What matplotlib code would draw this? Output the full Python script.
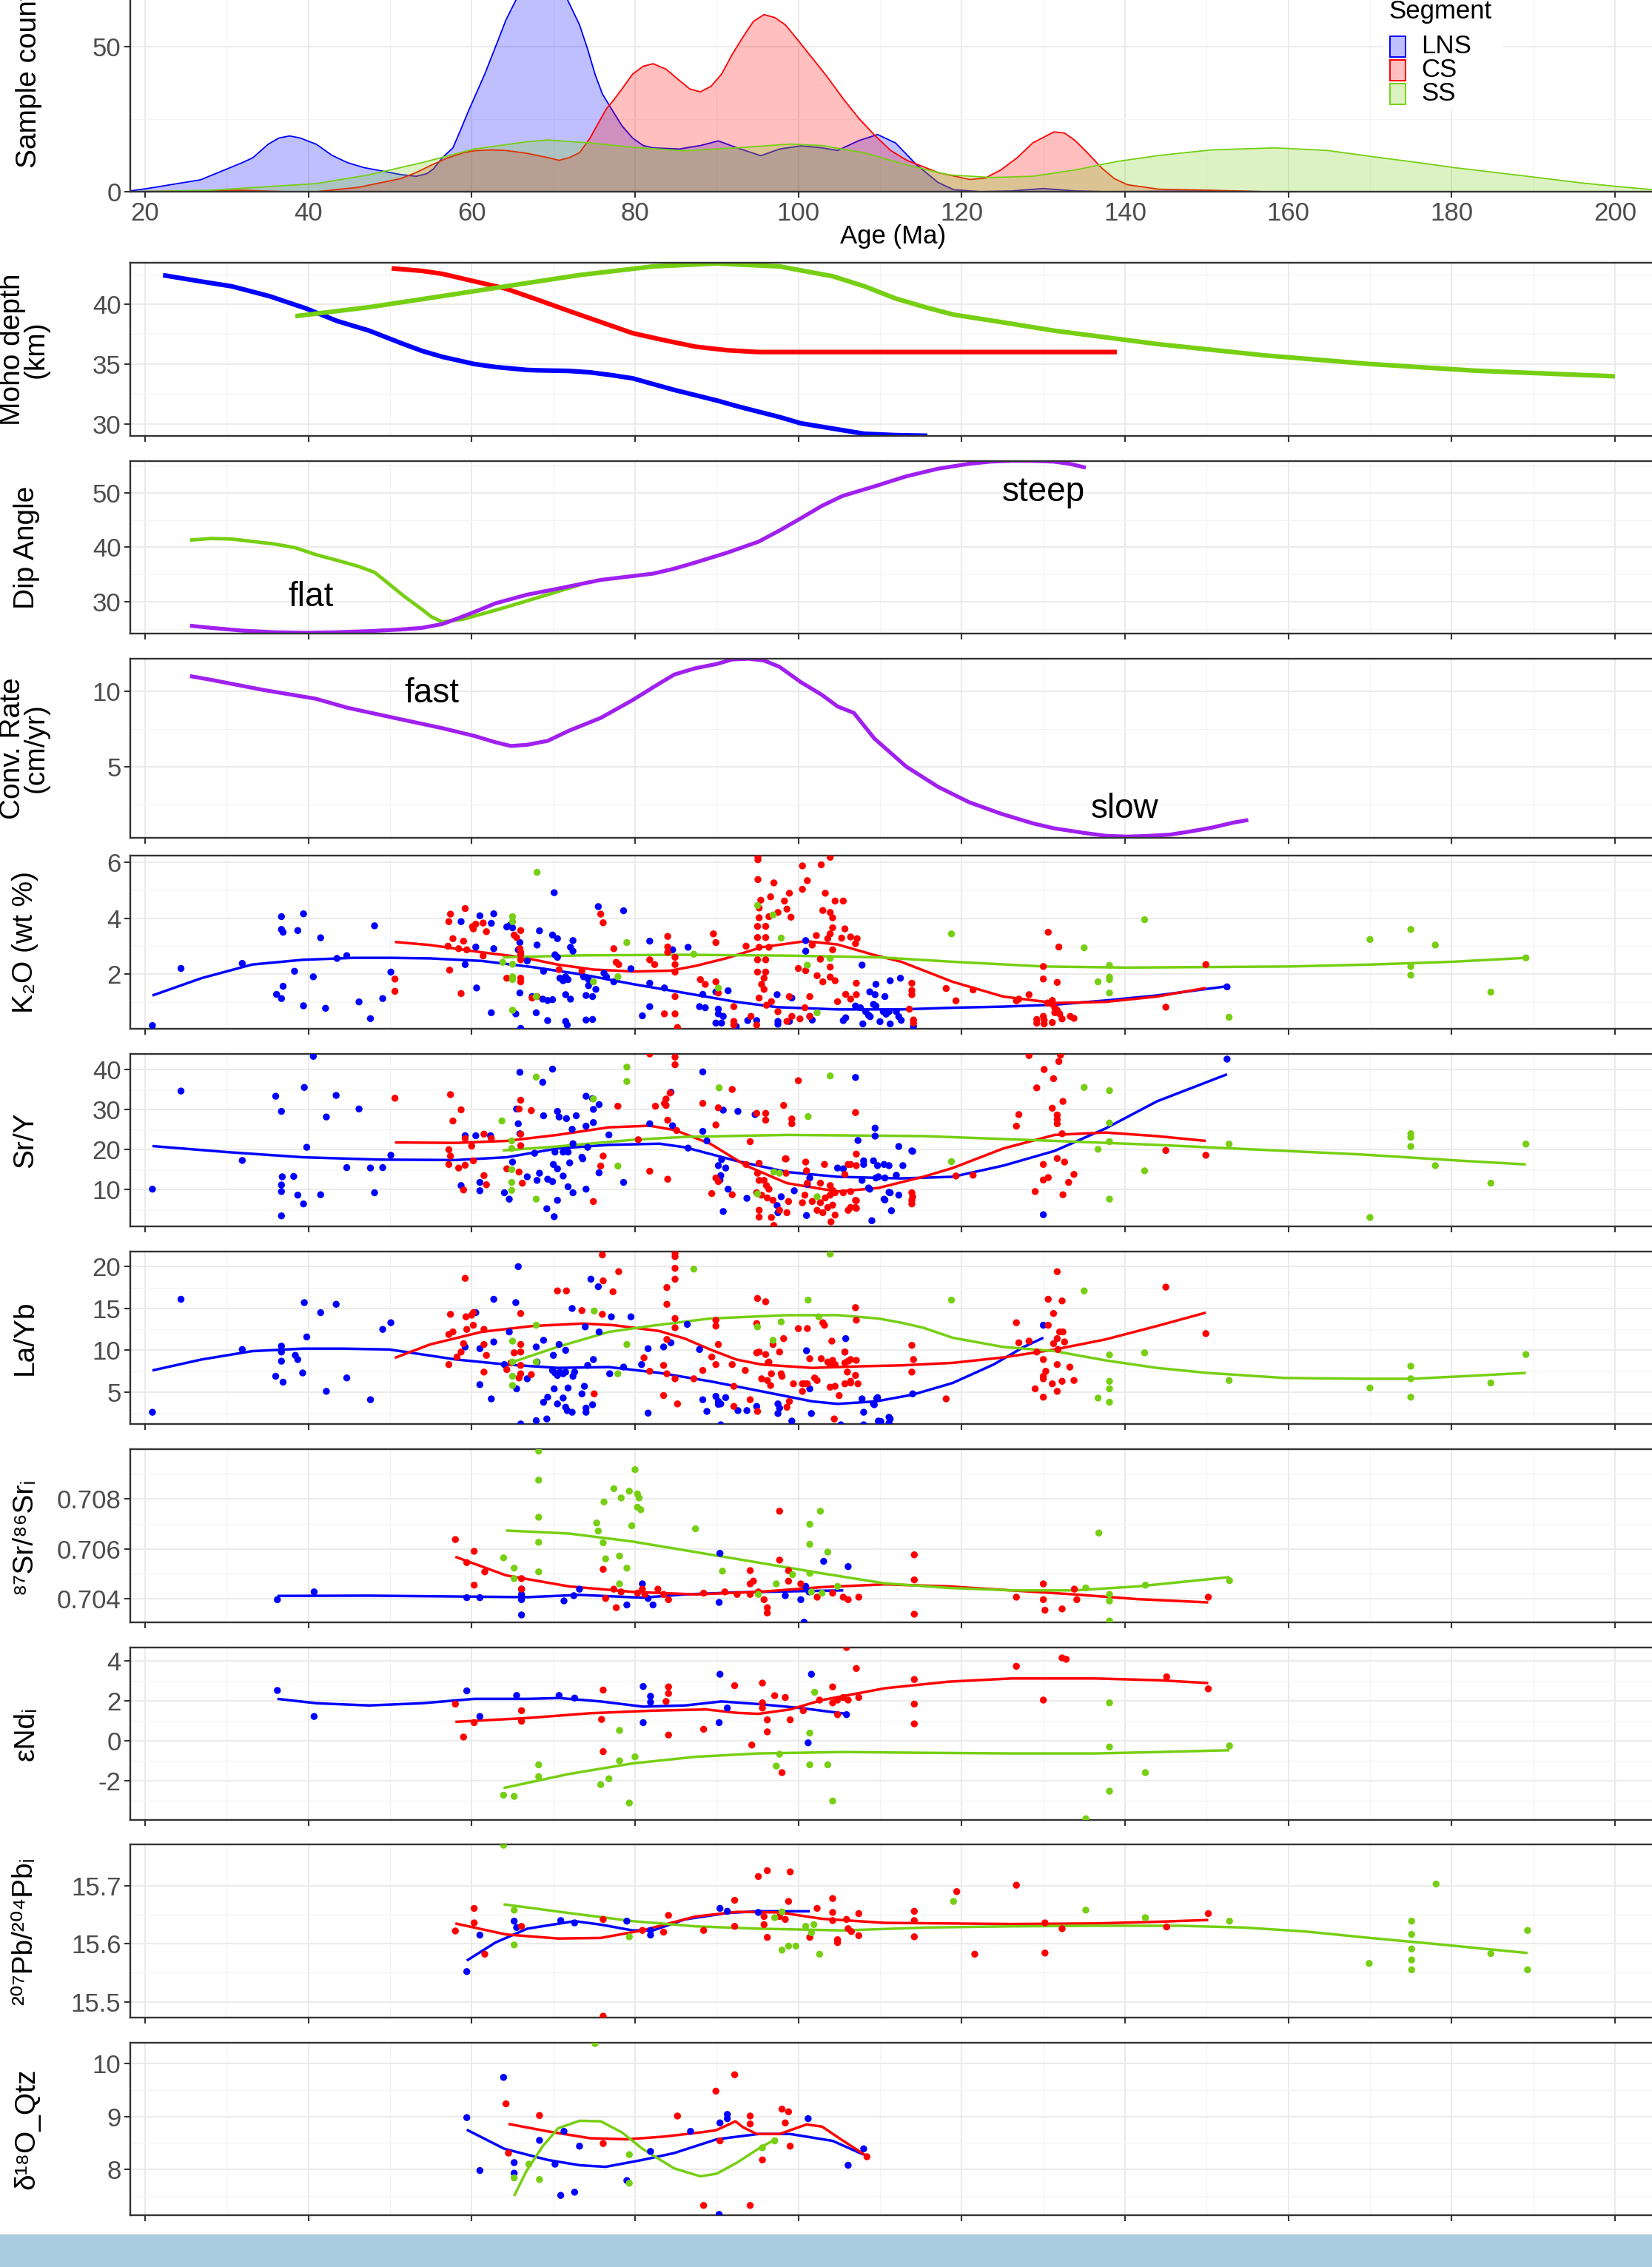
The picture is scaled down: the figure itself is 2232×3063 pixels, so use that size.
import matplotlib.pyplot as plt
from matplotlib.patches import Rectangle

plt.rcParams['font.family'] = ['Liberation Sans', 'DejaVu Sans']
plt.rcParams['axes.unicode_minus'] = False
plt.rcParams['savefig.bbox'] = 'standard'

W, H = 2232, 3063
COL = {'LNS': '#0000FF', 'CS': '#FF0000', 'SS': '#76CF12'}
PURPLE = '#A020F0'
segments = ['LNS', 'CS', 'SS']
age_ticks = list(range(20, 201, 20))
age_minor = list(range(30, 201, 20))

# ---- sample age density (sample count) ----
dens_lns = [(18.1, 0.25), (20.3, 1.1), (26.8, 4.1), (31.9, 10.0), (33.2, 11.7), (35.1, 16.4), (36.4, 18.5),
            (37.7, 19.2), (39.0, 18.5), (41.0, 16.3), (42.9, 12.5), (44.8, 10.0), (46.8, 8.3), (48.7, 7.3),
            (51.3, 5.9), (53.2, 5.3), (54.5, 6.2), (55.3, 7.8), (56.4, 11.7), (57.7, 15.1), (58.6, 21.0),
            (59.6, 27.8), (61.6, 40.5), (62.9, 49.8), (64.2, 59.2), (65.5, 66.5), (67.0, 72.0), (68.5, 74.0),
            (70.0, 72.5), (71.5, 67.5), (73.2, 57.5), (74.2, 49.1), (75.1, 40.5), (76.0, 33.7), (77.1, 28.6),
            (78.4, 22.7), (79.7, 18.5), (81.0, 15.9), (82.2, 15.1), (85.4, 14.7), (88.0, 15.9), (90.2, 17.5),
            (92.5, 15.1), (95.4, 12.4), (97.7, 14.7), (100.3, 15.8), (102.9, 15.1), (104.8, 14.2), (107.4, 17.6),
            (109.7, 19.7), (111.9, 16.8), (114.5, 9.2), (117.1, 3.2), (119.0, 0.7), (122.3, 0.0), (126.1, 0.25),
            (130.0, 1.1), (133.9, 0.25), (137.7, 0.0), (150.7, 0.25), (157.0, 0.0), (210.0, 0.0)]
dens_cs = [(18.1, 0.0), (28.1, 0.25), (31.9, 0.5), (37.1, 0.0), (41.0, 0.0), (46.1, 1.5), (51.3, 4.5), (53.2, 6.6),
           (55.1, 9.2), (57.1, 11.7), (59.0, 13.4), (60.3, 14.1), (62.3, 14.4), (64.2, 14.2), (66.8, 13.2),
           (69.4, 11.7), (70.7, 10.8), (71.9, 11.7), (73.2, 13.4), (74.5, 18.5), (75.5, 23.6), (76.5, 28.6),
           (77.5, 32.0), (78.4, 35.4), (79.7, 40.5), (81.0, 43.2), (82.2, 44.1), (83.8, 42.2), (85.4, 38.4),
           (86.7, 35.4), (88.0, 34.4), (89.3, 36.3), (90.6, 40.5), (91.9, 47.3), (93.2, 53.2), (94.5, 58.7),
           (95.8, 61.0), (97.1, 60.0), (98.4, 57.5), (99.9, 52.4), (101.6, 46.4), (103.5, 39.7), (105.5, 32.0),
           (107.4, 25.3), (109.4, 19.3), (111.3, 14.2), (113.3, 10.8), (117.1, 6.6), (121.0, 4.2), (122.9, 4.7),
           (124.8, 7.5), (126.8, 11.7), (128.7, 16.8), (131.3, 20.6), (132.6, 20.2), (133.9, 17.6), (135.4, 13.4),
           (137.1, 8.3), (138.7, 4.5), (140.3, 2.4), (144.2, 0.85), (150.6, 0.5), (157.1, 0.0), (210.0, 0.0)]
dens_ss = [(18.1, 0.0), (28.1, 0.5), (41.0, 2.8), (47.4, 5.8), (53.9, 10.0), (60.3, 14.7), (66.8, 17.2),
           (69.3, 17.8), (74.5, 16.8), (79.7, 15.3), (86.1, 14.1), (92.5, 15.1), (99.0, 16.4), (102.9, 15.9),
           (108.1, 13.4), (113.3, 9.2), (118.4, 5.8), (123.6, 4.9), (128.7, 5.3), (133.9, 7.5), (139.0, 10.4),
           (144.2, 12.5), (150.6, 14.4), (158.4, 15.1), (164.8, 14.2), (171.3, 11.7), (176.0, 10.0), (180.3, 8.3),
           (184.8, 6.8), (189.3, 5.3), (192.5, 4.2), (195.8, 3.05), (199.7, 1.95), (204.6, 0.7), (210.0, 0.2)]

# ---- Moho depth ----
moho_lns = [(22.2, 42.43), (26.7, 41.92), (30.6, 41.5), (35.2, 40.68), (39.7, 39.65), (43.5, 38.6), (47.4, 37.8),
            (51.3, 36.76), (53.9, 36.1), (56.4, 35.6), (60.3, 35.0), (62.9, 34.75), (66.8, 34.5), (68.1, 34.47),
            (71.9, 34.42), (74.5, 34.3), (77.1, 34.07), (79.7, 33.8), (84.8, 32.83), (90.0, 31.95), (92.6, 31.45),
            (97.7, 30.56), (100.3, 30.04), (104.2, 29.6), (108.1, 29.16), (111.9, 29.05), (115.8, 29.0)]
moho_cs = [(50.2, 43.0), (53.9, 42.79), (56.4, 42.54), (60.3, 41.92), (64.2, 41.3), (68.1, 40.37), (71.9, 39.44),
           (75.8, 38.51), (79.7, 37.58), (83.5, 37.0), (87.4, 36.45), (91.3, 36.15), (95.1, 36.0), (97.7, 36.0),
           (139.0, 36.0)]
moho_ss = [(38.4, 39.0), (47.4, 39.75), (56.4, 40.68), (64.2, 41.5), (73.2, 42.44), (82.2, 43.16), (90.0, 43.41),
           (97.7, 43.16), (104.2, 42.34), (108.1, 41.5), (111.9, 40.48), (115.8, 39.7), (119.0, 39.13),
           (124.8, 38.51), (131.3, 37.79), (144.2, 36.65), (157.1, 35.72), (170.0, 35.0), (182.9, 34.44),
           (200.0, 33.97)]

# ---- dip angle ----
dip_ss = [(25.5, 41.3), (28.1, 41.6), (30.6, 41.5), (35.8, 40.6), (38.4, 39.9), (41.0, 38.6), (43.5, 37.6),
          (46.1, 36.5), (48.1, 35.4), (50.0, 33.1), (51.9, 30.8), (53.9, 28.6), (55.1, 27.2), (56.4, 26.3),
          (59.0, 26.8), (61.6, 27.9), (64.2, 29.0), (69.3, 31.3), (73.2, 33.1)]
dip_all = [(25.5, 25.6), (28.1, 25.2), (31.9, 24.7), (35.8, 24.4), (39.7, 24.3), (43.5, 24.4), (47.4, 24.6),
           (51.3, 24.9), (53.9, 25.2), (56.4, 25.9), (58.4, 27.0), (60.3, 28.1), (62.9, 29.7), (66.8, 31.3),
           (70.6, 32.4), (75.8, 34.0), (79.7, 34.7), (82.2, 35.15), (84.8, 36.06), (87.4, 37.2), (91.3, 39.0),
           (95.1, 41.0), (97.7, 43.07), (100.3, 45.3), (102.9, 47.6), (105.4, 49.4), (109.4, 51.2), (113.2, 53.0),
           (117.1, 54.4), (120.9, 55.3), (123.5, 55.7), (126.1, 55.85), (128.7, 55.84), (131.3, 55.7),
           (133.2, 55.3), (135.2, 54.6)]

# ---- convergence rate ----
conv_rate = [(25.5, 11.0), (28.0, 10.76), (34.5, 10.08), (40.9, 9.5), (44.8, 8.9), (51.3, 8.14), (56.4, 7.55),
             (57.7, 7.38), (60.3, 7.04), (62.9, 6.62), (64.8, 6.37), (66.8, 6.45), (69.3, 6.71), (71.9, 7.38),
             (75.8, 8.23), (79.7, 9.41), (82.2, 10.25), (84.8, 11.1), (87.4, 11.52), (90.0, 11.8), (91.9, 12.1),
             (93.9, 12.15), (95.8, 12.03), (97.7, 11.61), (100.3, 10.6), (102.9, 9.75), (104.8, 8.99), (106.8, 8.56),
             (109.3, 6.87), (113.2, 5.01), (117.1, 3.67), (120.9, 2.65), (124.8, 1.89), (128.7, 1.25), (131.3, 0.92),
             (135.2, 0.6), (137.7, 0.42), (140.3, 0.37), (142.9, 0.42), (145.5, 0.5), (148.0, 0.71), (150.6, 0.96),
             (153.2, 1.29), (155.1, 1.47)]

# ---- K2O (wt %) ----
k2o_lns = [(20.9, 0.15), (24.4, 2.2), (31.9, 2.38), (36.7, 4.06), (36.7, 3.6), (36.9, 3.5), (39.4, 4.16), (38.7, 3.56),
           (41.5, 3.3), (38.3, 2.1), (40.6, 1.9), (36.9, 1.56), (36.1, 1.27), (36.7, 1.12), (39.4, 0.86), (42.1, 0.77),
           (46.2, 1.0), (43.5, 2.56), (44.7, 2.66), (48.1, 3.73), (47.6, 0.4), (49.1, 1.12), (50.1, 2.07),
           (58.7, 3.88), (61.0, 4.09), (62.4, 3.82), (62.7, 4.16), (64.3, 3.69), (64.7, 3.75), (65.0, 3.66), (60.5, 2.97),
           (62.7, 2.91), (59.2, 2.34), (60.6, 1.5), (62.4, 0.61), (65.9, 3.13), (65.7, 2.87), (66.8, 2.47), (68.0, 3.04),
           (68.3, 3.55), (70.1, 4.92), (69.9, 3.4), (70.5, 3.27), (72.4, 3.2), (72.1, 2.96), (72.4, 2.82), (70.2, 2.69),
           (70.5, 2.6), (68.8, 2.1), (70.8, 1.85), (71.2, 1.76), (71.5, 1.9), (71.8, 1.8), (73.7, 1.9), (74.3, 1.8),
           (76.2, 2.03), (76.5, 1.9), (77.4, 1.72), (74.3, 1.58), (75.2, 1.45), (65.9, 1.32), (67.4, 1.19), (68.7, 1.1),
           (69.3, 1.05), (69.9, 1.08), (71.5, 1.26), (72.1, 1.1), (74.0, 1.23), (74.8, 1.19), (69.3, 0.33), (67.9, 0.61),
           (65.4, 0.57), (66.0, 0.05), (71.5, 0.3), (71.7, 0.17), (74.0, 0.35), (74.8, 0.37), (75.5, 4.42), (78.6, 4.27),
           (79.5, 2.19), (81.8, 3.18), (81.8, 1.67), (84.6, 2.87), (86.5, 2.96), (83.6, 1.5), (81.8, 0.83), (80.9, 0.5),
           (88.3, 1.27), (89.9, 1.36), (91.4, 1.4), (87.9, 0.83), (88.6, 0.79), (90.2, 0.74), (90.2, 0.57), (90.8, 0.48),
           (89.9, 0.24), (90.6, 0.24), (92.4, 0.12), (93.8, 0.33), (94.9, 0.33), (97.4, 1.26), (99.2, 1.14), (97.5, 0.3),
           (97.5, 0.2), (98.9, 0.3), (100.9, 3.2), (100.9, 2.82), (101.4, 0.48), (101.7, 0.35), (105.5, 0.33),
           (105.8, 0.43), (107.8, 2.32), (108.75, 1.36), (109.4, 1.26), (110.6, 1.19), (109.5, 1.63), (111.25, 1.76),
           (112.5, 1.85), (107.0, 0.85), (107.6, 0.79), (108.25, 0.65), (108.6, 0.52), (109.2, 0.91), (109.5, 0.85),
           (110.4, 0.65), (110.75, 0.56), (111.1, 0.65), (112.0, 0.65), (112.3, 0.47), (112.6, 0.34), (110.0, 0.29),
           (111.25, 0.21), (107.9, 0.21), (114.1, 0.12), (108.8, 0.47), (152.5, 1.54)]
k2o_cs = [(50.6, 1.82), (50.6, 1.38), (57.4, 4.15), (59.2, 4.35), (57.2, 3.88), (60.1, 3.7), (60.5, 3.79), (61.4, 3.83),
          (61.8, 3.52), (60.2, 3.62), (57.7, 3.27), (59.0, 3.18), (57.1, 3.0), (58.4, 2.91), (59.4, 2.87), (61.4, 2.65),
          (57.3, 2.14), (58.7, 1.3), (65.2, 3.4), (66.0, 3.56), (65.5, 3.31), (65.9, 2.91), (66.0, 2.78), (66.0, 2.69),
          (66.0, 2.51), (66.0, 1.72), (66.0, 1.85), (64.3, 1.85), (67.4, 1.14), (68.0, 1.19), (70.7, 2.16), (73.5, 2.12),
          (75.8, 4.15), (76.1, 3.84), (77.4, 2.91), (78.0, 2.34), (77.7, 2.42), (81.8, 2.51), (82.4, 2.34), (84.0, 3.35),
          (84.0, 2.97), (84.0, 2.78), (84.9, 2.6), (84.9, 2.34), (84.9, 2.07), (84.9, 1.19), (83.6, 0.57), (84.9, 0.57),
          (85.2, 0.08), (88.0, 1.8), (88.6, 1.63), (89.9, 1.72), (90.2, 1.32), (92.1, 0.83), (92.1, 0.3), (92.1, 0.17),
          (89.6, 3.44), (89.9, 3.13), (93.6, 3.0), (95.05, 6.2), (95.05, 6.1), (95.05, 5.39), (97.0, 5.27), (98.9, 4.9),
          (100.5, 5.88), (101.1, 5.35), (100.5, 5.04), (102.8, 5.92), (103.9, 6.19), (103.3, 4.9), (104.5, 4.62),
          (105.5, 4.62), (95.4, 4.65), (96.6, 4.77), (98.3, 4.62), (95.2, 4.37), (97.5, 4.21), (98.6, 4.33), (99.1, 4.04),
          (96.4, 4.06), (95.2, 4.02), (95.0, 3.71), (96.0, 3.71), (95.0, 3.31), (96.0, 3.31), (95.2, 2.96), (96.4, 2.96),
          (95.0, 2.51), (96.0, 2.51), (95.0, 2.07), (96.0, 2.07), (95.8, 1.85), (95.5, 1.63), (95.8, 1.45), (96.7, 1.01),
          (97.5, 0.65), (95.2, 1.14), (96.1, 0.88), (94.2, 0.48), (94.9, 0.17), (98.6, 0.3), (99.2, 0.48), (100.2, 0.39),
          (100.8, 0.79), (101.4, 0.48), (103.0, 4.28), (103.9, 4.21), (104.2, 4.02), (104.2, 3.66), (103.9, 3.44),
          (103.6, 3.27), (105.3, 3.29), (105.7, 3.62), (106.4, 3.33), (107.2, 3.27), (107.0, 3.09), (102.2, 3.38),
          (100.0, 2.2), (100.9, 2.12), (102.3, 1.94), (103.9, 2.25), (103.9, 1.89), (103.0, 1.72), (104.5, 1.76),
          (107.1, 1.67), (101.7, 3.04), (101.4, 1.19), (98.9, 1.19), (105.8, 1.27), (104.8, 1.01), (106.4, 1.1),
          (113.9, 1.67), (113.9, 1.41), (113.9, 1.26), (113.6, 0.74), (102.7, 2.53), (104.2, 2.87), (107.1, 1.26),
          (114.1, 0.35), (114.1, 0.24), (118.1, 1.48), (119.3, 1.04), (121.4, 1.43), (126.7, 1.04), (127.0, 1.1),
          (128.25, 1.26), (130.0, 2.27), (130.0, 1.82), (131.7, 1.7), (130.6, 3.5), (131.9, 2.97), (130.5, 0.96),
          (131.1, 0.92), (131.4, 0.79), (131.1, 1.05), (129.2, 0.37), (129.2, 0.24), (130.0, 0.48), (130.1, 0.35),
          (130.1, 0.21), (131.1, 0.26), (131.4, 0.61), (132.0, 0.57), (132.3, 0.39), (133.3, 0.48), (133.75, 0.41),
          (131.7, 0.7), (145.0, 0.81), (149.9, 2.34)]
k2o_ss = [(68.0, 5.65), (65.0, 4.06), (65.0, 3.88), (63.8, 2.42), (65.0, 2.35), (65.0, 1.9), (65.0, 1.8), (67.9, 1.19),
          (65.0, 0.7), (79.0, 3.13), (74.9, 1.72), (77.9, 1.9), (87.2, 2.71), (90.2, 1.5), (95.0, 4.46), (96.9, 4.12),
          (97.9, 3.29), (101.1, 2.32), (103.9, 2.56), (102.3, 0.61), (118.75, 3.44), (142.4, 3.95), (135.0, 2.94),
          (138.1, 2.31), (138.1, 1.89), (138.1, 1.8), (138.1, 1.32), (136.7, 1.72), (152.75, 0.45), (170.0, 3.24),
          (175.0, 3.6), (178.0, 3.04), (175.0, 2.27), (175.0, 1.96), (184.8, 1.35), (189.1, 2.58)]
k2o_fit_lns = [(20.9, 1.23), (26.9, 1.85), (33.1, 2.34), (39.3, 2.51), (45.6, 2.58), (50.0, 2.58), (54.9, 2.56),
               (61.2, 2.47), (67.4, 2.25), (73.6, 1.98), (79.9, 1.63), (86.1, 1.32), (92.4, 1.0), (97.4, 0.81),
               (104.8, 0.73), (112.6, 0.73), (118.9, 0.79), (125.1, 0.83), (131.4, 0.9), (137.6, 1.05), (143.9, 1.23),
               (152.5, 1.56)]
k2o_fit_cs = [(50.6, 3.15), (54.9, 3.04), (61.2, 2.78), (66.2, 2.6), (70.5, 2.34), (74.9, 2.16), (79.9, 2.09),
              (84.3, 2.12), (87.4, 2.29), (91.1, 2.56), (95.5, 2.96), (100.9, 3.18), (104.8, 3.06), (109.2, 2.69),
              (112.6, 2.44), (118.9, 1.72), (125.1, 1.19), (131.4, 0.96), (137.6, 1.0), (143.9, 1.19), (149.9, 1.5)]
k2o_fit_ss = [(63.8, 2.6), (73.6, 2.67), (86.1, 2.69), (98.6, 2.66), (109.8, 2.6), (118.9, 2.44), (130.1, 2.27),
              (140.1, 2.23), (150.1, 2.25), (160.1, 2.27), (170.1, 2.34), (180.1, 2.44), (189.1, 2.58)]

# ---- Sr/Y ----
sry_lns = [(20.9, 10.0), (24.4, 34.6), (31.9, 17.2), (36.0, 33.3), (36.7, 29.5), (39.5, 35.5), (43.4, 33.5), (46.2, 30.1),
           (42.2, 28.1), (39.8, 20.5), (44.7, 15.4), (47.6, 15.3), (49.1, 15.4), (36.8, 13.1), (38.2, 13.2), (36.7, 11.05),
           (36.7, 9.4), (38.7, 8.5), (41.5, 8.6), (39.4, 6.3), (36.7, 3.3), (48.1, 9.1), (40.6, 43.3), (50.1, 18.5),
           (59.2, 23.4), (60.5, 23.4), (62.3, 23.4), (58.7, 10.9), (61.0, 11.7), (61.0, 9.6), (64.0, 9.1), (64.6, 7.5),
           (65.9, 39.3), (69.9, 40.1), (68.7, 36.8), (65.5, 30.1), (65.7, 26.4), (65.9, 23.9), (68.8, 28.4), (70.5, 29.5),
           (70.7, 28.1), (71.6, 27.7), (72.8, 28.4), (74.0, 33.3), (74.8, 32.7), (75.6, 31.2), (74.9, 30.0), (74.9, 26.7),
           (74.0, 25.8), (72.3, 25.0), (76.8, 23.6), (74.2, 20.5), (72.4, 21.4), (70.2, 19.3), (71.8, 19.3), (71.2, 19.3),
           (67.7, 19.0), (65.0, 16.8), (70.0, 16.2), (72.0, 16.6), (73.6, 17.6), (73.5, 18.0), (75.6, 14.1), (78.6, 11.7),
           (66.8, 13.1), (68.0, 12.2), (69.3, 12.5), (69.9, 11.9), (68.3, 14.0), (71.2, 13.3), (70.5, 15.1), (71.8, 10.6),
           (72.4, 9.1), (74.0, 10.0), (69.2, 5.1), (70.1, 3.1), (70.5, 7.2), (81.8, 26.4), (84.6, 25.9), (84.4, 34.3),
           (88.3, 39.4), (86.5, 20.3), (88.3, 24.5), (88.8, 22.1), (90.6, 17.4), (90.2, 15.9), (91.1, 15.3), (90.8, 29.8),
           (92.6, 29.5), (94.7, 28.7), (90.5, 13.4), (90.4, 12.3), (91.4, 10.0), (90.8, 4.4), (93.7, 7.7), (97.9, 8.1),
           (97.4, 5.9), (97.5, 4.1), (101.0, 3.4), (99.5, 9.6), (101.1, 11.2), (101.4, 12.8), (104.8, 15.3), (105.5, 15.1),
           (107.0, 38.0), (109.4, 25.3), (109.4, 23.3), (107.3, 22.2), (108.0, 17.1), (108.0, 16.2), (109.2, 17.1),
           (109.7, 15.9), (107.8, 12.2), (108.6, 10.3), (109.5, 12.8), (110.5, 16.2), (111.1, 15.9), (112.3, 20.7),
           (112.8, 15.9), (113.9, 19.6), (111.1, 9.2), (110.5, 7.5), (112.3, 8.5), (111.4, 4.6), (109.0, 2.1),
           (114.0, 19.5), (109.8, 13.1), (110.6, 12.8), (112.0, 13.5), (108.75, 10.0), (111.25, 9.1), (110.6, 7.3),
           (130.0, 3.6), (152.5, 42.6)]
sry_cs = [(50.6, 32.8), (57.4, 33.7), (58.7, 29.9), (57.7, 27.1), (59.2, 22.7), (60.0, 20.8), (61.5, 23.8), (62.4, 22.7),
          (57.2, 19.9), (57.4, 18.3), (57.2, 16.2), (58.4, 15.3), (59.2, 16.0), (60.2, 17.1), (61.5, 13.4), (61.8, 11.1),
          (66.2, 11.5), (59.0, 9.8), (66.0, 32.3), (65.8, 30.1), (67.3, 29.7), (66.0, 23.8), (66.0, 20.9), (64.3, 15.1),
          (65.8, 14.3), (74.9, 6.9), (75.8, 15.8), (76.1, 18.3), (77.9, 30.8), (80.4, 22.4), (81.8, 14.5), (84.0, 12.5),
          (81.8, 43.9), (84.9, 43.1), (84.9, 41.2), (84.3, 34.1), (83.8, 32.6), (83.8, 31.0), (83.6, 31.5), (82.5, 30.8),
          (84.0, 27.3), (85.1, 24.7), (88.3, 31.5), (90.2, 30.4), (91.9, 35.0), (89.9, 26.1), (94.1, 21.9), (94.9, 29.0),
          (96.0, 29.0), (96.0, 27.3), (98.2, 31.0), (99.2, 27.6), (99.2, 26.4), (100.0, 37.2), (98.4, 17.6), (95.2, 16.5),
          (93.6, 16.2), (89.9, 12.8), (90.2, 11.9), (89.4, 8.9), (91.9, 8.6), (95.0, 14.0), (95.2, 12.2), (95.8, 12.2),
          (96.1, 10.9), (96.4, 10.0), (94.9, 9.1), (95.5, 8.5), (96.2, 7.8), (96.9, 7.2), (98.8, 6.9), (97.7, 4.7),
          (95.2, 4.7), (95.2, 3.0), (96.7, 2.9), (97.0, 0.9), (98.6, 4.1), (100.9, 16.8), (101.0, 14.6), (103.2, 16.2),
          (101.1, 11.5), (102.7, 11.5), (103.9, 10.9), (104.2, 9.7), (104.5, 9.1), (103.9, 8.5), (103.3, 7.8),
          (102.7, 6.6), (101.7, 6.9), (100.5, 6.6), (100.8, 8.5), (102.3, 4.7), (103.0, 4.1), (103.6, 5.4), (104.2, 6.0),
          (104.5, 3.5), (104.0, 1.8), (106.1, 4.7), (107.0, 5.4), (105.5, 9.1), (106.1, 16.2), (107.1, 18.8),
          (107.0, 29.2), (98.5, 17.6), (105.7, 13.7), (107.0, 7.2), (113.9, 9.1), (113.9, 7.2), (113.9, 6.3), (98.5, 14.0),
          (106.4, 16.2), (107.1, 15.9), (106.4, 9.4), (106.4, 5.4), (107.1, 7.1), (107.1, 5.2), (114.0, 8.1),
          (119.3, 13.3), (121.4, 13.5), (128.25, 43.5), (132.1, 43.6), (131.9, 42.0), (130.1, 40.0), (131.25, 37.7),
          (129.2, 35.4), (132.4, 32.0), (131.1, 30.3), (127.0, 28.7), (131.7, 28.6), (131.7, 27.5), (131.7, 26.4),
          (126.7, 25.8), (132.3, 23.9), (131.7, 17.7), (132.6, 16.8), (130.0, 16.2), (133.75, 13.7), (130.6, 12.9),
          (130.0, 12.3), (133.1, 11.7), (129.0, 9.4), (132.4, 8.6), (145.0, 19.7), (149.9, 18.5)]
sry_ss = [(79.0, 40.6), (79.0, 37.0), (67.9, 38.1), (74.9, 32.6), (63.7, 27.1), (64.9, 22.1), (64.9, 20.2), (64.9, 14.9),
          (64.9, 11.7), (64.9, 9.7), (67.9, 7.5), (77.9, 15.8), (90.3, 35.4), (103.9, 38.4), (101.2, 28.2), (97.0, 14.3),
          (97.7, 14.0), (95.0, 8.8), (102.3, 8.1), (118.75, 16.9), (135.0, 35.5), (138.1, 34.7), (138.1, 26.6),
          (138.1, 21.9), (136.7, 20.0), (142.4, 14.6), (138.1, 7.5), (152.75, 21.3), (170.0, 2.9), (175.0, 23.9),
          (175.0, 23.0), (175.0, 20.7), (178.0, 15.9), (184.8, 11.5), (189.1, 21.3)]
sry_fit_lns = [(20.9, 20.8), (30.0, 19.3), (39.3, 18.0), (48.7, 17.4), (58.1, 17.3), (64.3, 18.0), (70.5, 20.2),
               (76.8, 21.1), (83.0, 21.4), (86.1, 20.5), (92.4, 17.1), (98.6, 14.3), (104.8, 13.1), (112.6, 12.7),
               (118.9, 13.1), (125.1, 15.9), (131.4, 19.6), (137.6, 25.2), (143.9, 32.0), (152.5, 38.8)]
sry_fit_cs = [(50.6, 21.7), (58.1, 21.6), (64.3, 22.1), (70.5, 23.6), (76.8, 25.5), (81.8, 25.9), (84.9, 24.8),
              (89.2, 21.4), (93.6, 15.9), (98.6, 11.5), (104.8, 9.4), (109.8, 10.3), (115.3, 13.1), (118.9, 15.3),
              (125.1, 20.2), (131.4, 23.6), (137.6, 24.2), (143.9, 23.3), (149.9, 22.1)]
sry_fit_ss = [(63.8, 19.7), (70.5, 20.7), (79.9, 22.4), (86.1, 23.1), (98.6, 23.6), (115.3, 23.3), (131.4, 22.1),
              (143.9, 21.1), (156.4, 19.9), (168.9, 18.7), (181.4, 17.1), (189.1, 16.2)]

# ---- La/Yb ----
layb_lns = [(20.9, 2.6), (24.4, 16.1), (31.9, 10.1), (39.5, 15.7), (43.4, 15.5), (41.5, 14.5), (39.8, 11.6), (36.7, 10.5),
            (36.7, 9.8), (36.7, 8.7), (38.4, 9.4), (38.7, 8.9), (39.3, 7.3), (36.0, 6.9), (36.9, 6.2), (44.7, 6.7),
            (42.2, 5.1), (47.6, 4.1), (49.1, 12.5), (50.1, 13.3), (60.5, 14.5), (59.2, 10.4), (61.0, 10.2), (62.7, 16.1),
            (64.6, 12.2), (62.7, 11.0), (65.4, 15.7), (65.7, 20.0), (61.0, 5.9), (62.4, 4.2), (64.0, 8.3), (66.8, 6.6),
            (65.5, 5.4), (67.9, 10.4), (68.8, 11.2), (70.0, 9.4), (70.7, 10.7), (71.5, 10.0), (68.0, 8.6), (69.9, 7.6),
            (70.2, 7.3), (70.5, 7.0), (70.8, 7.4), (71.2, 7.2), (71.5, 7.4), (72.4, 6.9), (72.6, 7.4), (74.2, 8.2),
            (74.9, 8.9), (75.6, 12.2), (73.9, 12.8), (72.3, 15.0), (74.6, 18.5), (75.5, 17.6), (77.1, 14.0), (79.5, 14.0),
            (70.1, 5.4), (71.8, 5.5), (73.5, 4.8), (73.8, 5.7), (69.3, 4.4), (71.2, 4.3), (68.8, 3.8), (70.5, 3.6),
            (71.5, 3.2), (71.7, 2.8), (72.3, 2.6), (74.0, 3.1), (74.0, 2.6), (74.8, 3.5), (67.9, 1.6), (69.2, 1.8),
            (66.0, 1.2), (78.6, 8.0), (76.9, 7.2), (80.8, 8.3), (81.6, 10.2), (83.5, 10.4), (84.4, 10.9), (86.4, 13.1),
            (87.9, 10.1), (81.6, 2.5), (88.3, 4.1), (89.9, 4.5), (90.2, 3.9), (91.1, 4.35), (90.5, 3.6), (90.2, 3.55),
            (88.8, 2.7), (90.5, 1.1), (92.6, 2.8), (93.7, 2.8), (94.9, 3.3), (97.5, 3.6), (97.7, 3.1), (99.2, 1.55),
            (97.5, 2.45), (101.6, 2.45), (101.0, 9.95), (101.4, 5.4), (105.8, 11.4), (105.7, 9.8), (107.8, 4.2),
            (109.2, 3.6), (109.7, 4.35), (108.0, 2.6), (109.8, 1.55), (111.1, 2.0), (111.1, 1.3), (108.0, 1.1),
            (105.2, 1.1), (109.6, 4.25), (109.3, 3.5), (110.1, 1.5), (111.25, 1.8), (114.0, 4.8), (130.0, 13.0)]
layb_cs = [(59.2, 18.6), (57.4, 14.3), (59.3, 14.0), (60.0, 14.2), (60.2, 14.5), (57.2, 11.9), (57.7, 12.2), (59.4, 12.5),
           (60.2, 13.0), (61.5, 12.5), (59.0, 10.8), (58.7, 9.8), (58.2, 9.2), (61.5, 10.7), (61.8, 9.4), (57.2, 8.3),
           (61.5, 7.4), (64.3, 7.7), (66.0, 14.4), (66.0, 10.7), (66.0, 9.8), (65.2, 9.7), (66.0, 8.2), (66.0, 7.2),
           (65.8, 6.7), (67.3, 7.1), (64.8, 8.5), (70.5, 17.1), (71.6, 17.1), (73.5, 14.75), (76.0, 14.3), (76.1, 18.3),
           (76.0, 21.4), (77.3, 17.0), (78.0, 19.4), (81.1, 9.1), (81.8, 7.5), (83.5, 8.2), (83.9, 17.5), (83.9, 15.5),
           (83.9, 11.3), (83.9, 7.2), (84.9, 21.6), (84.9, 21.2), (84.9, 19.8), (84.9, 18.5), (84.9, 13.8), (84.9, 12.7),
           (84.9, 6.6), (85.2, 3.6), (83.5, 4.6), (75.0, 4.8), (87.2, 6.6), (89.9, 13.6), (89.9, 12.9), (90.2, 10.7),
           (89.4, 9.2), (89.9, 8.3), (88.3, 7.6), (91.9, 8.3), (93.5, 7.6), (92.1, 5.7), (92.1, 3.3), (94.1, 4.1),
           (95.0, 2.7), (95.0, 16.2), (96.0, 15.8), (94.9, 13.2), (95.2, 9.8), (94.9, 9.7), (96.0, 9.5), (96.4, 8.6),
           (96.3, 8.5), (97.7, 9.8), (98.2, 11.4), (96.9, 10.7), (96.7, 7.2), (95.5, 6.6), (96.2, 6.4), (96.6, 5.8),
           (97.9, 7.2), (98.0, 6.9), (99.4, 6.0), (100.0, 12.6), (101.1, 12.6), (103.0, 13.3), (103.2, 13.0), (101.4, 9.0),
           (102.8, 9.0), (103.6, 8.6), (103.9, 8.3), (104.2, 8.8), (104.5, 8.3), (105.7, 9.8), (104.1, 11.1), (105.7, 8.5),
           (107.0, 15.1), (107.1, 13.6), (106.1, 8.7), (106.0, 7.4), (106.4, 6.3), (105.7, 6.0), (107.3, 6.0), (104.5, 5.7),
           (103.9, 5.6), (102.0, 6.7), (102.3, 6.4), (100.5, 6.0), (101.1, 6.0), (100.5, 5.1), (100.8, 6.0), (98.9, 3.9),
           (98.6, 3.2), (105.0, 4.6), (104.4, 1.8), (113.9, 10.6), (113.9, 7.4), (107.1, 8.8), (106.4, 8.9), (107.0, 7.0),
           (106.4, 6.1), (114.1, 8.9), (118.1, 4.2), (126.7, 13.3), (127.0, 10.9), (128.25, 11.1), (129.2, 9.8),
           (130.0, 8.9), (130.0, 6.9), (130.0, 6.6), (130.3, 7.5), (131.1, 6.0), (131.7, 8.3), (131.7, 5.1), (129.0, 5.4),
           (130.0, 4.4), (132.3, 6.3), (133.75, 6.4), (133.25, 8.0), (131.7, 19.4), (130.6, 16.1), (132.3, 15.9),
           (131.25, 14.4), (130.6, 13.0), (132.0, 12.2), (132.4, 12.2), (131.7, 11.4), (131.25, 10.8), (132.6, 11.0),
           (131.8, 10.1), (145.0, 17.55), (149.9, 12.0)]
layb_ss = [(87.2, 19.7), (103.9, 21.5), (101.2, 16.0), (97.9, 13.4), (96.9, 11.2), (95.0, 12.8), (102.5, 14.0), (75.0, 14.7),
           (79.0, 10.7), (67.9, 13.0), (77.9, 7.2), (65.0, 11.1), (65.0, 8.6), (65.0, 6.9), (65.0, 5.8), (67.9, 8.6),
           (118.75, 16.0), (135.0, 17.1), (138.1, 9.45), (138.1, 6.3), (138.1, 5.4), (138.1, 3.8), (136.7, 4.3),
           (142.4, 9.7), (152.75, 6.4), (170.0, 5.5), (175.0, 8.1), (175.0, 6.6), (175.0, 4.4), (184.8, 6.1), (189.1, 9.5)]
layb_fit_lns = [(20.9, 7.6), (26.9, 8.9), (33.1, 9.9), (39.3, 10.2), (44.3, 10.2), (49.9, 10.1), (58.1, 8.9), (64.3, 8.3),
                (70.5, 7.9), (76.8, 8.0), (83.0, 7.3), (89.2, 6.3), (95.5, 5.1), (101.7, 3.9), (104.8, 3.6), (109.5, 3.9),
                (114.0, 4.7), (118.9, 6.1), (123.9, 8.3), (127.6, 10.4), (130.0, 11.5)]
layb_fit_cs = [(50.6, 9.1), (54.9, 10.7), (61.2, 12.2), (67.4, 12.9), (73.6, 13.2), (77.4, 13.0), (83.0, 12.3),
               (86.1, 11.4), (89.2, 10.1), (92.4, 8.9), (95.5, 8.3), (101.7, 7.9), (108.0, 8.1), (112.6, 8.2),
               (118.9, 8.5), (125.1, 9.15), (131.4, 10.1), (137.6, 11.3), (143.9, 12.9), (149.9, 14.5)]
layb_fit_ss = [(65.0, 8.6), (70.5, 10.4), (76.8, 12.2), (81.8, 12.9), (89.2, 13.8), (98.6, 14.2), (104.8, 14.2),
               (109.8, 13.8), (112.6, 13.3), (115.3, 12.7), (118.9, 11.5), (125.1, 10.4), (131.4, 9.9), (137.6, 8.8),
               (143.9, 7.9), (150.1, 7.3), (159.5, 6.7), (168.9, 6.6), (175.1, 6.6), (181.4, 6.9), (189.1, 7.3)]

# ---- 87Sr/86Sr initial ----
srsr_lns = [(36.2, 0.70397), (40.7, 0.70428), (59.4, 0.70405), (61.0, 0.70405), (66.1, 0.70439), (66.1, 0.70418),
            (66.1, 0.70397), (66.1, 0.70336), (71.3, 0.70392), (72.5, 0.70413), (73.2, 0.70439), (79.0, 0.70376),
            (80.9, 0.7046), (81.6, 0.70402), (82.2, 0.70376), (90.4, 0.70582), (90.3, 0.70386), (98.4, 0.70413),
            (100.3, 0.70397), (101.3, 0.70428), (100.9, 0.7045), (103.1, 0.7055), (106.1, 0.70529), (100.7, 0.70307)]
srsr_cs = [(58.0, 0.70637), (60.3, 0.7059), (59.4, 0.70545), (60.3, 0.70455), (61.6, 0.70508), (66.1, 0.70481),
           (66.1, 0.70439), (76.1, 0.70518), (76.4, 0.70402), (77.4, 0.70439), (77.7, 0.70365), (78.3, 0.70428),
           (80.3, 0.70423), (80.9, 0.70439), (81.2, 0.70418), (82.8, 0.70439), (83.5, 0.70418), (84.1, 0.70397),
           (88.4, 0.70423), (91.0, 0.70428), (92.5, 0.70418), (94.1, 0.70513), (94.1, 0.7046), (94.1, 0.70418),
           (94.5, 0.70471), (95.1, 0.70428), (95.8, 0.70397), (96.2, 0.70365), (96.2, 0.70344), (97.7, 0.7075),
           (97.7, 0.70555), (98.8, 0.70513), (98.8, 0.70471), (100.3, 0.7046), (102.3, 0.70407), (104.2, 0.70423),
           (105.5, 0.70407), (106.1, 0.70397), (107.4, 0.70407), (114.2, 0.70576), (114.2, 0.70476), (114.2, 0.70339),
           (126.7, 0.70407), (130.0, 0.7046), (130.0, 0.70397), (130.2, 0.70355), (132.3, 0.7036), (133.8, 0.70439),
           (134.1, 0.70397), (150.2, 0.70407)]
srsr_ss = [(68.2, 0.7099), (68.2, 0.70874), (68.2, 0.70726), (68.2, 0.70626), (68.2, 0.70508), (63.9, 0.70564),
           (65.2, 0.70523), (65.2, 0.70481), (75.3, 0.70703), (75.5, 0.70671), (76.2, 0.70787), (77.4, 0.7084),
           (78.3, 0.70803), (79.3, 0.7083), (80.3, 0.70819), (80.5, 0.70803), (80.3, 0.70766), (80.7, 0.70756),
           (80.0, 0.70916), (76.1, 0.70624), (76.4, 0.7056), (78.1, 0.70571), (79.0, 0.70523), (78.1, 0.7046),
           (79.6, 0.70692), (87.4, 0.7068), (90.7, 0.70511), (95.1, 0.70418), (97.3, 0.7046), (99.3, 0.70497),
           (101.6, 0.70428), (101.4, 0.70502), (101.4, 0.70618), (101.4, 0.70698), (102.7, 0.7075), (103.6, 0.70587),
           (104.8, 0.7045), (102.9, 0.70423), (135.2, 0.70444), (136.8, 0.70663), (138.1, 0.70418), (138.1, 0.70392),
           (138.1, 0.70312), (142.5, 0.70455), (152.8, 0.70473)]
srsr_fit_lns = [(36.2, 0.70412), (47.4, 0.70413), (60.3, 0.70409), (66.8, 0.70407), (73.2, 0.70416), (80.9, 0.70405),
                (86.1, 0.70418), (92.5, 0.70426), (100.3, 0.70431), (105.5, 0.70434)]
srsr_fit_cs = [(58.0, 0.70568), (64.2, 0.70494), (71.9, 0.7045), (79.7, 0.70428), (87.4, 0.70418), (95.1, 0.70428),
               (102.9, 0.70447), (110.6, 0.70458), (118.4, 0.7045), (126.1, 0.70434), (133.8, 0.70418),
               (141.6, 0.70399), (150.2, 0.70386)]
srsr_fit_ss = [(64.2, 0.70673), (71.9, 0.70661), (79.7, 0.70629), (87.4, 0.70587), (95.1, 0.70545), (102.9, 0.70502),
               (110.6, 0.70462), (118.4, 0.70444), (126.1, 0.70434), (133.8, 0.70434), (141.6, 0.7045), (152.8, 0.70487)]

# ---- eNd initial ----
end_lns = [(36.2, 2.53), (40.7, 1.23), (59.4, 2.51), (61.0, 1.23), (65.5, 2.28), (70.7, 2.28), (72.6, 2.15), (81.0, 2.73),
           (81.9, 2.24), (81.9, 1.94), (81.0, 0.92), (90.4, 3.34), (90.3, 0.92), (91.3, 1.65), (101.6, 3.34),
           (101.2, -0.09), (105.9, 1.32)]
end_cs = [(58.0, 1.85), (59.0, 0.2), (60.3, 0.92), (66.1, 1.52), (66.1, 0.99), (76.1, 2.55), (75.9, 1.08), (76.1, -0.53),
          (84.1, 2.71), (84.1, 2.38), (83.8, 1.98), (84.1, 0.3), (88.4, 0.59), (92.2, 2.77), (95.6, 2.9), (95.6, 1.91),
          (95.6, 1.65), (94.3, -0.2), (96.2, 1.06), (96.2, 0.46), (97.1, 2.27), (98.4, 2.18), (98.0, -1.58), (99.0, 1.06),
          (100.6, 1.52), (102.6, 2.05), (104.2, 1.91), (104.8, 2.05), (105.5, 2.18), (106.1, 2.05), (107.4, 2.18),
          (104.2, 2.71), (105.9, 4.68), (107.1, 3.63), (104.8, 1.32), (114.2, 3.08), (114.2, 1.85), (114.2, 0.86),
          (126.7, 3.74), (130.0, 2.05), (132.3, 4.16), (132.8, 4.09), (145.1, 3.21), (150.2, 2.61)]
end_ss = [(63.9, -2.71), (65.2, -2.77), (68.2, -1.19), (68.2, -1.78), (75.8, -2.18), (76.8, -1.89), (78.1, 0.53),
          (78.1, -0.99), (79.3, -3.1), (80.0, -0.79), (97.7, -0.66), (97.3, -1.25), (101.4, 0.4), (101.4, -1.19),
          (102.0, 2.44), (103.6, -1.19), (104.2, -3.0), (135.2, -3.89), (138.1, 1.91), (138.1, -0.3), (138.1, -2.51),
          (142.5, -1.58), (152.8, -0.24)]
end_fit_lns = [(36.2, 2.11), (41.0, 1.89), (47.4, 1.78), (53.9, 1.89), (60.3, 2.11), (66.8, 2.11), (70.7, 2.15),
               (75.8, 1.98), (81.0, 1.72), (86.1, 1.78), (90.6, 1.98), (95.1, 1.85), (100.3, 1.65), (105.9, 1.36)]
end_fit_cs = [(58.0, 0.96), (66.8, 1.15), (74.5, 1.39), (82.2, 1.52), (88.7, 1.58), (92.5, 1.41), (95.1, 1.36),
              (99.0, 1.58), (102.9, 2.05), (110.6, 2.64), (118.4, 2.97), (126.1, 3.13), (136.4, 3.13), (144.2, 3.04),
              (150.2, 2.9)]
end_fit_ss = [(63.9, -2.35), (71.9, -1.65), (79.7, -1.12), (87.4, -0.79), (95.1, -0.62), (105.5, -0.55), (115.8, -0.59),
              (126.1, -0.62), (136.4, -0.62), (144.2, -0.55), (152.8, -0.46)]

# ---- 207Pb/204Pb initial ----
pb_lns = [(59.4, 15.552), (61.0, 15.615), (65.2, 15.639), (65.5, 15.628), (70.9, 15.640), (72.6, 15.636), (79.0, 15.639),
          (81.9, 15.615), (81.9, 15.623), (90.4, 15.661), (91.3, 15.656), (95.1, 15.654)]
pb_cs = [(58.0, 15.622), (60.3, 15.661), (60.3, 15.636), (61.6, 15.582), (66.1, 15.630), (76.1, 15.475), (76.1, 15.642),
         (80.9, 15.623), (84.1, 15.649), (83.5, 15.62), (88.4, 15.623), (92.2, 15.675), (92.2, 15.630), (95.1, 15.716),
         (96.2, 15.726), (99.0, 15.724), (95.8, 15.647), (95.8, 15.633), (96.2, 15.611), (98.8, 15.673), (97.7, 15.647),
         (98.4, 15.642), (101.4, 15.611), (102.3, 15.661), (104.2, 15.678), (104.2, 15.654), (104.2, 15.640),
         (104.8, 15.607), (104.8, 15.602), (105.9, 15.642), (106.1, 15.626), (107.4, 15.652), (107.4, 15.614),
         (106.5, 15.621), (114.2, 15.656), (114.2, 15.640), (114.2, 15.612), (119.4, 15.690), (121.6, 15.582),
         (126.7, 15.701), (130.2, 15.636), (130.2, 15.584), (132.3, 15.626), (145.1, 15.629), (150.2, 15.652)]
pb_ss = [(63.9, 15.770), (65.2, 15.658), (65.2, 15.598), (79.3, 15.612), (97.1, 15.645), (98.0, 15.655), (98.0, 15.589),
         (98.8, 15.596), (99.7, 15.596), (100.9, 15.630), (101.9, 15.633), (101.6, 15.619), (102.6, 15.582),
         (119.0, 15.673), (135.2, 15.658), (142.5, 15.645), (152.8, 15.639), (169.9, 15.566), (175.1, 15.639),
         (175.1, 15.616), (175.1, 15.591), (175.1, 15.572), (175.1, 15.555), (178.1, 15.703), (184.8, 15.583),
         (189.3, 15.623), (189.3, 15.555)]
pb_fit_lns = [(59.4, 15.571), (62.9, 15.602), (66.8, 15.626), (72.6, 15.639), (75.8, 15.633), (79.7, 15.623),
              (82.2, 15.623), (86.1, 15.642), (91.3, 15.653), (95.1, 15.656), (101.4, 15.656)]
pb_fit_cs = [(58.0, 15.635), (64.2, 15.616), (70.6, 15.609), (75.8, 15.610), (80.9, 15.623), (87.4, 15.647),
             (92.5, 15.655), (97.7, 15.654), (102.9, 15.643), (110.6, 15.636), (118.4, 15.635), (126.1, 15.634),
             (136.4, 15.635), (144.2, 15.638), (150.2, 15.641)]
pb_fit_ss = [(63.9, 15.668), (71.9, 15.653), (79.7, 15.639), (87.4, 15.630), (95.1, 15.626), (105.5, 15.623),
             (115.8, 15.628), (126.1, 15.630), (136.4, 15.631), (146.7, 15.631), (154.5, 15.628), (162.2, 15.621),
             (170.0, 15.610), (177.7, 15.600), (189.3, 15.584)]

# ---- d18O quartz ----
d18o_lns = [(59.4, 8.98), (61.0, 7.98), (63.9, 9.74), (65.2, 8.13), (65.2, 7.93), (68.3, 8.55), (70.2, 8.1), (71.3, 8.72),
            (70.9, 7.51), (72.6, 7.57), (73.2, 8.44), (79.0, 7.79), (81.9, 8.34), (86.8, 8.72), (90.4, 8.88),
            (91.3, 9.04), (91.3, 8.96), (90.3, 7.15), (101.2, 8.96), (106.1, 8.08), (108.0, 8.39)]
d18o_cs = [(64.2, 9.24), (64.5, 8.31), (68.3, 9.02), (76.1, 8.49), (85.2, 9.01), (88.4, 7.32), (89.9, 9.48), (90.4, 8.54),
           (92.2, 9.79), (94.1, 9.01), (94.1, 8.86), (94.1, 7.32), (95.6, 8.18), (98.0, 9.14), (98.4, 8.88), (98.8, 9.09),
           (99.0, 8.44), (108.4, 8.24)]
d18o_ss = [(75.1, 10.38), (65.2, 7.84), (67.0, 8.1), (68.3, 7.81), (79.3, 8.28), (79.3, 7.74), (95.6, 8.41), (97.1, 8.54)]
d18o_fit_lns = [(59.4, 8.75), (64.0, 8.39), (69.3, 8.18), (73.2, 8.08), (76.4, 8.05), (80.9, 8.18), (84.8, 8.31),
                (90.0, 8.57), (95.1, 8.67), (99.0, 8.67), (104.2, 8.54), (108.0, 8.28)]
d18o_fit_cs = [(64.5, 8.86), (69.3, 8.72), (74.5, 8.59), (79.0, 8.57), (83.5, 8.62), (88.0, 8.7), (89.9, 8.74),
               (91.2, 8.83), (92.3, 8.91), (93.2, 8.8), (94.9, 8.67), (97.7, 8.67), (101.0, 8.85), (102.9, 8.81),
               (105.5, 8.54), (108.3, 8.26)]
d18o_fit_ss = [(65.2, 7.5), (66.7, 7.97), (68.7, 8.44), (70.6, 8.78), (73.2, 8.92), (75.8, 8.91), (78.4, 8.70),
               (80.9, 8.39), (84.8, 8.02), (88.0, 7.87), (90.0, 7.92), (92.5, 8.13), (95.1, 8.39), (97.4, 8.59)]

# ---------------- layout (pixels of the 2232x3063 canvas) ----------------
L, R = 176, 2238
X0 = 20 + (L - 196) / 11.033
X1 = 20 + (R - 196) / 11.033

fig = plt.figure(figsize=(W / 100, H / 100), dpi=100)


def make_ax(top, bottom, ylim, major, minor):
    ax = fig.add_axes([L / W, 1 - bottom / H, (R - L) / W, (bottom - top) / H])
    ax.set_xticks(age_ticks)
    ax.set_xticks(age_minor, minor=True)
    ax.set_yticks(major)
    ax.set_yticks(minor, minor=True)
    # limits after the ticks so that set_xticks cannot widen the view
    ax.set_xlim(X0, X1)
    ax.set_ylim(*ylim)
    ax.grid(which='major', color='#EBEBEB', lw=1.5)
    ax.grid(which='minor', color='#F4F4F4', lw=0.9)
    ax.set_axisbelow(True)
    for s in ax.spines.values():
        s.set_color('#333333')
        s.set_linewidth(1.7)
    ax.tick_params(which='major', length=6, width=1.5, color='#333333', labelsize=25,
                   labelcolor='#4D4D4D', pad=3)
    ax.tick_params(which='minor', length=0)
    ax.tick_params(axis='x', labelbottom=False)
    return ax


def ylabel(top, bottom, text, x=35, size=28, ls=0.85):
    fig.text(x / W, 1 - (top + bottom) / 2 / H, text, rotation=90, ha='center', va='center',
             fontsize=size, color='black', linespacing=ls)


def curve(ax, pts, color, lw):
    xs, ys = zip(*pts)
    ax.plot(xs, ys, color=color, lw=lw, solid_joinstyle='round', solid_capstyle='butt')


def scatter_panel(ax, pts, fits):
    for seg in segments:
        xs, ys = zip(*pts[seg])
        ax.scatter(xs, ys, s=46, color=COL[seg], edgecolors='none', zorder=3)
    for seg in segments:
        curve(ax, fits[seg], COL[seg], 2.5)


# 1. density
ax = make_ax(-43, 259, (0, 77), [0, 50], [25, 75])
for seg, pts in zip(segments, [dens_lns, dens_cs, dens_ss]):
    xs, ys = zip(*pts)
    ax.fill_between(xs, ys, 0, facecolor=COL[seg], alpha=0.25, edgecolor='none', zorder=2)
    ax.plot(xs, ys, color=COL[seg], lw=1.3, zorder=2, solid_joinstyle='round')
ax.tick_params(axis='x', labelbottom=True)
ylabel(-43, 259, 'Sample count', x=39)
fig.text((L + R) / 2 / W, 1 - 320 / H, 'Age (Ma)', ha='center', va='center', fontsize=25)

# 2. Moho depth
ax = make_ax(355, 588.7, (29.0, 43.47), [30, 35, 40], [32.5, 37.5, 42.5])
for seg, pts in zip(segments, [moho_lns, moho_cs, moho_ss]):
    curve(ax, pts, COL[seg], 4.5)
ylabel(355, 588.7, 'Moho depth\n(km)', x=33)

# 3. Dip angle
ax = make_ax(622.7, 856, (24.16, 55.84), [30, 40, 50], [25, 35, 45, 55])
curve(ax, dip_ss, COL['SS'], 3.4)
curve(ax, dip_all, PURPLE, 3.8)
ax.text(40.3, 30.8, 'flat', fontsize=33, ha='center', va='center')
ax.text(130.0, 50.1, 'steep', fontsize=33, ha='center', va='center')
ylabel(622.7, 856, 'Dip Angle', x=36)

# 4. Convergence rate
ax = make_ax(890, 1132, (0.29, 12.15), [5, 10], [2.5, 7.5])
curve(ax, conv_rate, PURPLE, 3.8)
ax.text(55.1, 9.84, 'fast', fontsize=33, ha='center', va='center')
ax.text(140.0, 2.18, 'slow', fontsize=33, ha='center', va='center')
ylabel(890, 1132, 'Conv. Rate\n(cm/yr)', x=33)

# 5-11 geochemistry
geo_panels = [
    (1156, 1390, (0.035, 6.25), [2, 4, 6], [1, 3, 5], 'K₂O (wt %)',
     [k2o_lns, k2o_cs, k2o_ss], [k2o_fit_lns, k2o_fit_cs, k2o_fit_ss], 34),
    (1424, 1656.7, (0.72, 43.9), [10, 20, 30, 40], [5, 15, 25, 35], 'Sr/Y',
     [sry_lns, sry_cs, sry_ss], [sry_fit_lns, sry_fit_cs, sry_fit_ss], 34),
    (1691, 1924.3, (1.17, 21.8), [5, 10, 15, 20], [2.5, 7.5, 12.5, 17.5], 'La/Yb',
     [layb_lns, layb_cs, layb_ss], [layb_fit_lns, layb_fit_cs, layb_fit_ss], 34),
    (1957.9, 2191.8, (0.70307, 0.70998), [0.704, 0.706, 0.708], [0.703, 0.705, 0.707, 0.709], '⁸⁷Sr/⁸⁶Srᵢ',
     [srsr_lns, srsr_cs, srsr_ss], [srsr_fit_lns, srsr_fit_cs, srsr_fit_ss], 32),
    (2225.7, 2459, (-3.95, 4.69), [-2, 0, 2, 4], [-3, -1, 1, 3], 'εNdᵢ',
     [end_lns, end_cs, end_ss], [end_fit_lns, end_fit_cs, end_fit_ss], 36),
    (2492.3, 2725.7, (15.473, 15.771), [15.5, 15.6, 15.7], [15.55, 15.65], '²⁰⁷Pb/²⁰⁴Pbᵢ',
     [pb_lns, pb_cs, pb_ss], [pb_fit_lns, pb_fit_cs, pb_fit_ss], 33),
    (2759.6, 2993.4, (7.13, 10.40), [8, 9, 10], [7.5, 8.5, 9.5], 'δ¹⁸O_Qtz',
     [d18o_lns, d18o_cs, d18o_ss], [d18o_fit_lns, d18o_fit_cs, d18o_fit_ss], 36),
]
for top, bottom, ylim, major, minor, label, pts, fits, lx in geo_panels:
    ax = make_ax(top, bottom, ylim, major, minor)
    scatter_panel(ax, dict(zip(segments, pts)), dict(zip(segments, fits)))
    ylabel(top, bottom, label, x=lx)

# legend (Segment)
fig.add_artist(Rectangle((1868 / W, 1 - 147 / H), (2031 - 1868) / W, 147 / H,
                         transform=fig.transFigure, facecolor='white', edgecolor='none', zorder=5))
fig.text(1876 / W, 1 - 25 / H, 'Segment', fontsize=25, ha='left', va='baseline', zorder=6)
for i, seg in enumerate(segments):
    y0 = 49 + i * 32
    fig.add_artist(Rectangle((1878 / W, 1 - (y0 + 28) / H), 21 / W, 28 / H, transform=fig.transFigure,
                             facecolor=COL[seg], alpha=0.25, edgecolor='none', zorder=6))
    fig.add_artist(Rectangle((1878 / W, 1 - (y0 + 28) / H), 21 / W, 28 / H, transform=fig.transFigure,
                             facecolor='none', edgecolor=COL[seg], lw=1.4, zorder=7))
    fig.text(1920 / W, 1 - (y0 + 14) / H, seg, fontsize=25, ha='left', va='center', zorder=7)

# bottom band
fig.add_artist(Rectangle((0, 0), 1, (H - 3019) / H, transform=fig.transFigure,
                         facecolor='#A9CCE0', edgecolor='none', zorder=5))

fig.savefig('out.png', dpi=100)
